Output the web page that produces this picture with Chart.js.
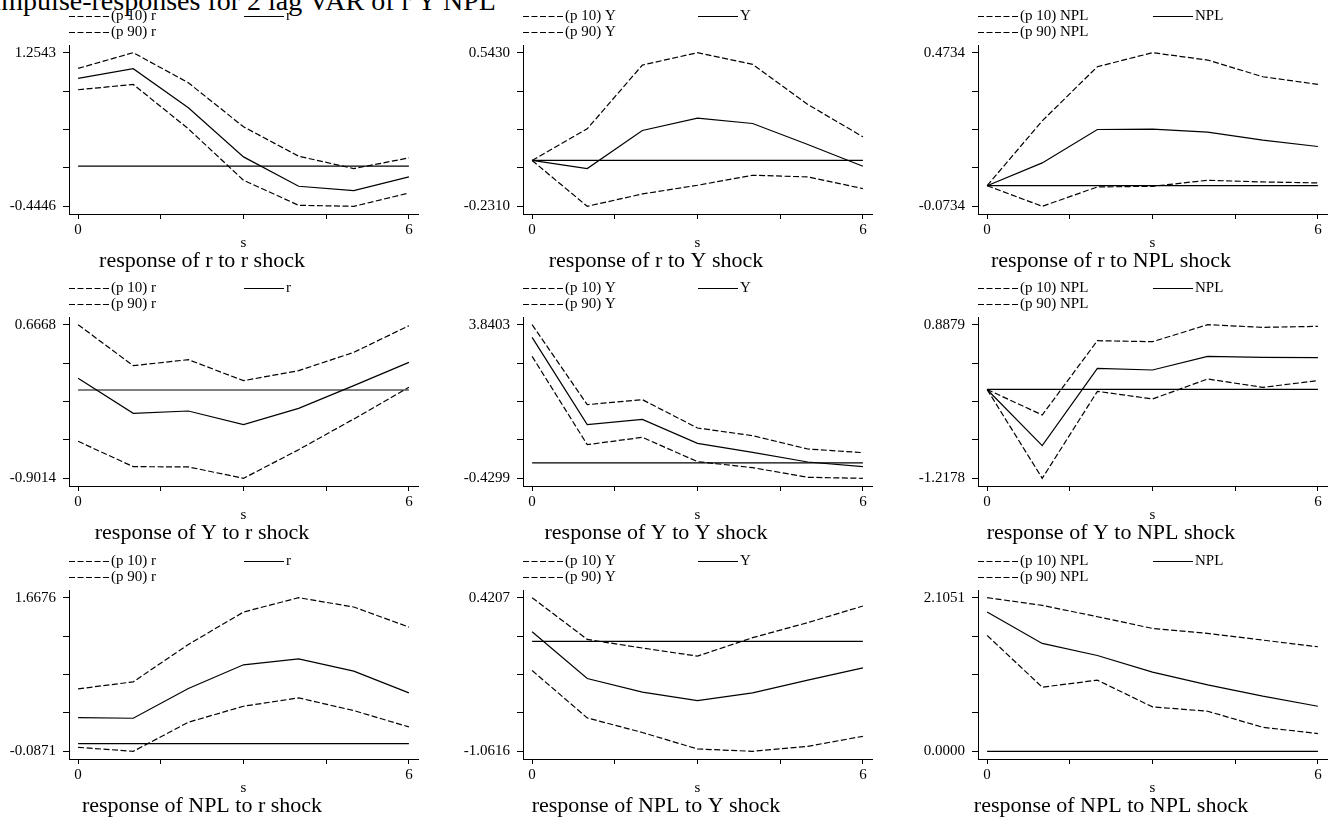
<!DOCTYPE html>
<html>
<head>
<meta charset="utf-8">
<script src="https://cdn.jsdelivr.net/npm/chart.js"></script>
<style>
  body { margin: 0; background: #fff; width: 1331px; height: 821px; position: relative; overflow: hidden;
         font-family: "Liberation Serif", "Times New Roman", serif; }
  #title { position: absolute; left: -8px; top: -13px; font-size: 28px; line-height: 1; white-space: nowrap; color: #000; }
  canvas { position: absolute; }
</style>
</head>
<body>
<div id="title">Impulse-responses for 2 lag VAR of r Y NPL</div>
<script>
// steps and axis ticks
var steps = [0, 1, 2, 3, 4, 5, 6];
var xTicks = [0, 1.5, 3, 4.5, 6];
var variables = ['r', 'Y', 'NPL'];

// response of r
var r_r_p10 = [0.8444, 0.9034, 0.4122, -0.1565, -0.4335, -0.4446, -0.2969];
var r_r_irf = [0.9699, 1.0770, 0.6449, 0.1020, -0.2230, -0.2710, -0.1196];
var r_r_p90 = [1.0807, 1.2543, 0.9219, 0.4344, 0.1094, -0.0273, 0.0909];

var r_Y_p10 = [0, -0.2310, -0.1687, -0.1250, -0.0745, -0.0830, -0.1418];
var r_Y_irf = [0, -0.0409, 0.1510, 0.2132, 0.1863, 0.0803, -0.0291];
var r_Y_p90 = [0, 0.1594, 0.4807, 0.5430, 0.4841, 0.2822, 0.1190];

var r_NPL_p10 = [0, -0.0734, -0.0045, -0.0021, 0.0193, 0.0134, 0.0098];
var r_NPL_irf = [0, 0.0811, 0.2000, 0.2012, 0.1905, 0.1620, 0.1394];
var r_NPL_p90 = [0, 0.2309, 0.4235, 0.4734, 0.4472, 0.3878, 0.3605];

// response of Y
var Y_r_p10 = [-0.5238, -0.7823, -0.7850, -0.9014, -0.6089, -0.2959, 0.0273];
var Y_r_irf = [0.1191, -0.2381, -0.2143, -0.3537, -0.1870, 0.0443, 0.2824];
var Y_r_p90 = [0.6668, 0.2484, 0.3096, 0.0953, 0.1974, 0.3845, 0.6566];

var Y_Y_p10 = [2.9603, 0.5057, 0.7095, 0.0331, -0.1335, -0.4021, -0.4299];
var Y_Y_irf = [3.4883, 1.0614, 1.2096, 0.5427, 0.2926, 0.0239, -0.1057];
var Y_Y_p90 = [3.8403, 1.6172, 1.7561, 0.9688, 0.7557, 0.3852, 0.2833];

var Y_NPL_p10 = [0, -1.2178, -0.0256, -0.1307, 0.1434, 0.0292, 0.1205];
var Y_NPL_irf = [0, -0.7702, 0.2895, 0.2667, 0.4540, 0.4403, 0.4357];
var Y_NPL_p90 = [0, -0.3499, 0.6686, 0.6549, 0.8879, 0.8514, 0.8651];

// response of NPL
var NPL_r_p10 = [-0.0413, -0.0871, 0.2448, 0.4279, 0.5232, 0.3783, 0.1914];
var NPL_r_irf = [0.2982, 0.2906, 0.6300, 0.9009, 0.9695, 0.8284, 0.5804];
var NPL_r_p90 = [0.6262, 0.7063, 1.1336, 1.5036, 1.6676, 1.5608, 1.3319];

var NPL_Y_p10 = [-0.2818, -0.7394, -0.8800, -1.0390, -1.0616, -1.0133, -0.9166];
var NPL_Y_irf = [0.0920, -0.3591, -0.4912, -0.5718, -0.4977, -0.3752, -0.2560];
var NPL_Y_p90 = [0.4207, 0.0179, -0.0650, -0.1432, 0.0350, 0.1800, 0.3401];

var NPL_NPL_p10 = [1.5880, 0.8787, 0.9748, 0.6087, 0.5492, 0.3295, 0.2426];
var NPL_NPL_irf = [1.9083, 1.4782, 1.3134, 1.0846, 0.9107, 0.7551, 0.6178];
var NPL_NPL_p90 = [2.1051, 1.9998, 1.8443, 1.6841, 1.6154, 1.5239, 1.4324];

// y axis ends (min / max) per panel, row = response, col = shock
var yLo = [-0.4446, -0.2310, -0.0734, -0.9014, -0.4299, -1.2178, -0.0871, -1.0616, 0.0000];
var yHi = [1.2543, 0.5430, 0.4734, 0.6668, 3.8403, 0.8879, 1.6676, 0.4207, 2.1051];

var p10 = [r_r_p10, r_Y_p10, r_NPL_p10, Y_r_p10, Y_Y_p10, Y_NPL_p10, NPL_r_p10, NPL_Y_p10, NPL_NPL_p10];
var irf = [r_r_irf, r_Y_irf, r_NPL_irf, Y_r_irf, Y_Y_irf, Y_NPL_irf, NPL_r_irf, NPL_Y_irf, NPL_NPL_irf];
var p90 = [r_r_p90, r_Y_p90, r_NPL_p90, Y_r_p90, Y_Y_p90, Y_NPL_p90, NPL_r_p90, NPL_Y_p90, NPL_NPL_p90];

var FONT = '"Liberation Serif", "Times New Roman", serif';
Chart.defaults.font.family = FONT;
Chart.defaults.color = '#000';

var colOff = [0, 454, 909];
var rowOff = [0, 272, 545];
var dash = [6, 2.5];

function pts(arr) {
  return steps.map(function (s, i) { return { x: s, y: arr[i] }; });
}

// legend, "s" and the panel caption
var panelText = {
  id: 'panelText',
  afterDraw: function (chart, args, opts) {
    var ctx = chart.ctx;
    var ca = chart.chartArea;
    var ds = chart.data.datasets;
    var spots = [[69, 16.5], [244, 16.5], [69, 32.5]];
    ctx.save();
    ctx.fillStyle = '#000';
    ctx.strokeStyle = '#000';
    ctx.lineWidth = 1;
    ctx.font = '15px ' + FONT;
    ctx.textBaseline = 'middle';
    ctx.textAlign = 'left';
    for (var k = 0; k < 3; k++) {
      var d = ds[k];
      var x = spots[k][0], y = spots[k][1];
      ctx.setLineDash(d.borderDash || []);
      ctx.beginPath();
      ctx.moveTo(x, y);
      ctx.lineTo(x + 40, y);
      ctx.stroke();
      ctx.fillText(d.label, x + 42, y - 0.5);
    }
    ctx.setLineDash([]);
    ctx.textAlign = 'center';
    ctx.fillText('s', (ca.left + ca.right) / 2, 243);
    ctx.font = '22px ' + FONT;
    ctx.textBaseline = 'alphabetic';
    ctx.fillText(opts.caption, 202, 267);
    ctx.restore();
  }
};

for (var row = 0; row < 3; row++) {
  for (var col = 0; col < 3; col++) {
    (function (row, col) {
      var i = row * 3 + col;
      var shock = variables[col];
      var lo = yLo[i], hi = yHi[i];
      var pad = (hi - lo) * 0.05;

      var cv = document.createElement('canvas');
      cv.width = 454;
      cv.height = 273;
      cv.style.left = colOff[col] + 'px';
      cv.style.top = rowOff[row] + 'px';
      document.body.appendChild(cv);

      var common = { borderColor: '#000', borderWidth: 1.2, pointRadius: 0, tension: 0, fill: false };

      new Chart(cv, {
        type: 'line',
        data: {
          datasets: [
            Object.assign({ label: '(p 10) ' + shock, data: pts(p10[i]), borderDash: dash }, common),
            Object.assign({ label: shock, data: pts(irf[i]) }, common),
            Object.assign({ label: '(p 90) ' + shock, data: pts(p90[i]), borderDash: dash }, common),
            Object.assign({ label: '', data: pts(steps.map(function () { return 0; })) }, common)
          ]
        },
        options: {
          responsive: false,
          animation: false,
          events: [],
          layout: { padding: { top: 45, right: 36, left: 0, bottom: 0 } },
          plugins: {
            legend: { display: false },
            tooltip: { enabled: false },
            panelText: { caption: 'response of ' + variables[row] + ' to ' + shock + ' shock' }
          },
          scales: {
            x: {
              type: 'linear',
              min: -0.165,
              max: 6.165,
              afterFit: function (s) { s.height = 59; },
              afterBuildTicks: function (s) { s.ticks = xTicks.map(function (v) { return { value: v }; }); },
              ticks: {
                autoSkip: false, maxRotation: 0, padding: 2, color: '#000',
                font: { size: 15, family: FONT },
                callback: function (v, idx) { return (idx === 0 || idx === xTicks.length - 1) ? String(v) : ''; }
              },
              grid: { drawOnChartArea: false, drawTicks: true, tickLength: 5, color: '#000' },
              border: { display: true, color: '#000', width: 1 }
            },
            y: {
              min: lo - pad,
              max: hi + pad,
              afterFit: function (s) { s.width = 69; },
              afterBuildTicks: function (s) {
                var t = [];
                for (var k = 0; k <= 4; k++) t.push({ value: lo + (hi - lo) * k / 4 });
                s.ticks = t;
              },
              ticks: {
                autoSkip: false, padding: 7, color: '#000',
                font: { size: 15, family: FONT },
                callback: function (v, idx) {
                  if (idx === 0) return lo.toFixed(4);
                  if (idx === 4) return hi.toFixed(4);
                  return '';
                }
              },
              grid: { drawOnChartArea: false, drawTicks: true, tickLength: 6, color: '#000' },
              border: { display: true, color: '#000', width: 1 }
            }
          }
        },
        plugins: [panelText]
      });
    })(row, col);
  }
}
</script>
</body>
</html>
